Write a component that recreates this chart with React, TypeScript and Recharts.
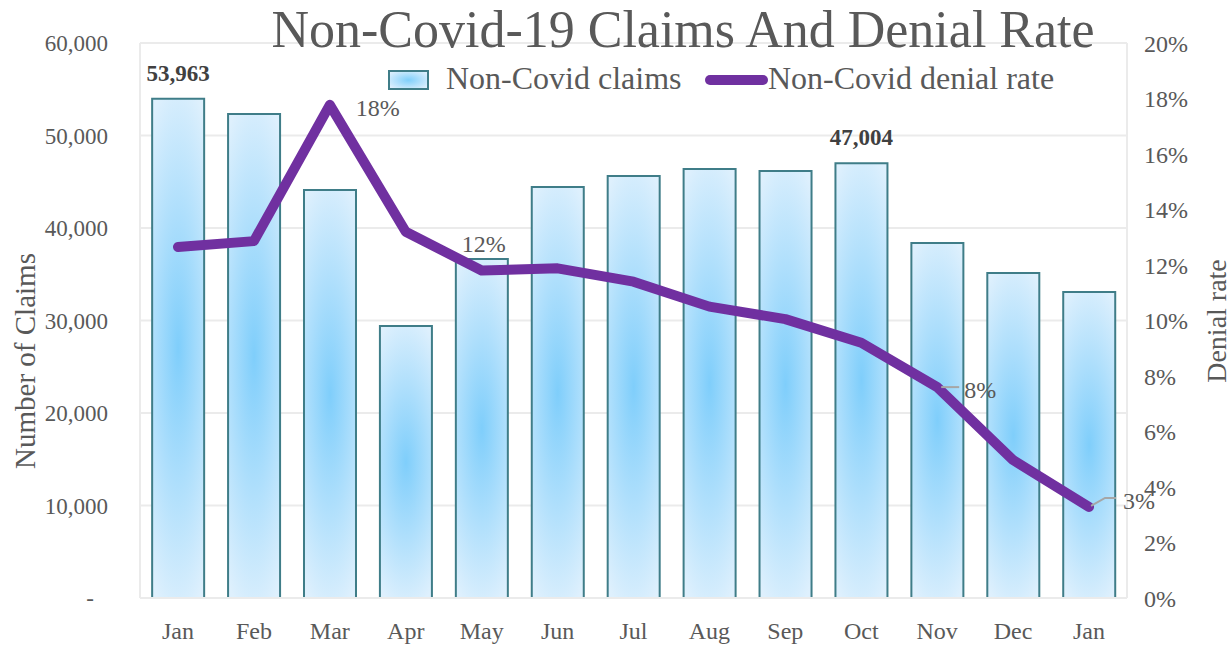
import React from "react";
import {
  ComposedChart,
  Bar,
  Line,
  XAxis,
  YAxis,
  CartesianGrid,
  LabelList,
} from "recharts";

const months = ["Jan", "Feb", "Mar", "Apr", "May", "Jun", "Jul", "Aug", "Sep", "Oct", "Nov", "Dec", "Jan"];
const claims = [53963, 52320, 44110, 29400, 36650, 44430, 45620, 46380, 46160, 47004, 38380, 35130, 33080];
const denialRate = [12.65, 12.86, 17.77, 13.2, 11.8, 11.88, 11.4, 10.5, 10.05, 9.2, 7.6, 4.97, 3.28];
const leftTicks = [0, 10000, 20000, 30000, 40000, 50000, 60000];
const rightTicks = [0, 2, 4, 6, 8, 10, 12, 14, 16, 18, 20];
const claimLabelIdx = [0, 9];
const rateLabelIdx = [2, 4, 10, 12];
const seriesNames = ["Non-Covid claims", "Non-Covid denial rate"];

const data = months.map((m, i) => ({ key: i, month: m, claims: claims[i], rate: denialRate[i] }));

const FONT = "'Liberation Serif', 'Times New Roman', serif";
const GREY = "#595959";

const LeftTick = (props: any) => {
  const { x, y, payload } = props;
  const v = payload.value as number;
  if (v === 0) {
    return (
      <text x={x - 14} y={y} dy="0.355em" textAnchor="end" fill={GREY} fontSize={23} fontFamily={FONT}>
        -
      </text>
    );
  }
  return (
    <text x={x} y={y} dy="0.355em" textAnchor="end" fill={GREY} fontSize={23} fontFamily={FONT}>
      {v.toLocaleString("en-US")}
    </text>
  );
};

const RightTick = (props: any) => {
  const { x, y, payload } = props;
  return (
    <text x={x} y={y} dy="0.355em" textAnchor="start" fill={GREY} fontSize={24} fontFamily={FONT}>
      {payload.value + "%"}
    </text>
  );
};

const BottomTick = (props: any) => {
  const { x, y, payload } = props;
  return (
    <text x={x} y={y} dy="0.71em" textAnchor="middle" fill={GREY} fontSize={24} fontFamily={FONT}>
      {months[payload.value]}
    </text>
  );
};

const ClaimLabel = (props: any) => {
  const { x, y, width, index, value } = props;
  if (!claimLabelIdx.includes(index)) return null;
  return (
    <text
      x={x + width / 2}
      y={y - 26}
      dy="0.355em"
      textAnchor="middle"
      fill="#404040"
      fontWeight="bold"
      fontSize={23}
      fontFamily={FONT}
    >
      {Number(value).toLocaleString("en-US")}
    </text>
  );
};

const RateLabel = (props: any) => {
  const { x, y, index, value } = props;
  if (!rateLabelIdx.includes(index)) return null;
  const txt = Math.round(Number(value)) + "%";
  const common = { fill: GREY, fontSize: 24, fontFamily: FONT };
  if (index === 2) {
    return (
      <text x={x + 26} y={y + 3} dy="0.355em" textAnchor="start" {...common}>
        {txt}
      </text>
    );
  }
  if (index === 4) {
    return (
      <text x={x + 2} y={y - 27} dy="0.355em" textAnchor="middle" {...common}>
        {txt}
      </text>
    );
  }
  if (index === 10) {
    return (
      <g>
        <line x1={x + 4} y1={y} x2={x + 22} y2={y} stroke="#a6a6a6" strokeWidth={2} />
        <text x={x + 27} y={y + 2} dy="0.355em" textAnchor="start" {...common}>
          {txt}
        </text>
      </g>
    );
  }
  return (
    <g>
      <polyline
        points={`${x + 2},${y - 1} ${x + 16},${y - 9} ${x + 27},${y - 9}`}
        fill="none"
        stroke="#a6a6a6"
        strokeWidth={2}
      />
      <text x={x + 34} y={y - 7} dy="0.355em" textAnchor="start" {...common}>
        {txt}
      </text>
    </g>
  );
};

const LegendBox = () => (
  <div
    style={{
      position: "absolute",
      left: 380,
      top: 61,
      width: 720,
      height: 40,
      fontFamily: FONT,
      color: GREY,
      fontSize: 32,
      zIndex: 3,
    }}
  >
    <svg width={720} height={40} style={{ position: "absolute", left: 0, top: 0 }}>
      <defs>
        <radialGradient id="legGrad" cx="0.5" cy="0.5" r="0.6">
          <stop offset="0" stopColor="#7fcffb" />
          <stop offset="1" stopColor="#dcefFd" />
        </radialGradient>
      </defs>
      <rect x={9} y={10} width={39} height={18} fill="url(#legGrad)" stroke="#3f7d88" strokeWidth={2} />
      <line x1={330} y1={19} x2={383} y2={19} stroke="#7030a0" strokeWidth={10} strokeLinecap="round" />
    </svg>
    <span style={{ position: "absolute", left: 66, top: -1, whiteSpace: "nowrap" }}>{seriesNames[0]}</span>
    <span style={{ position: "absolute", left: 388, top: -1, whiteSpace: "nowrap" }}>{seriesNames[1]}</span>
  </div>
);

export default function App() {
  return (
    <div style={{ position: "absolute", left: 0, top: 0, width: 1232, height: 649, background: "#fff" }}>
      <div
        style={{
          position: "absolute",
          left: 0,
          width: 1366,
          top: 0,
          textAlign: "center",
          fontFamily: FONT,
          fontSize: 52,
          color: GREY,
          zIndex: 2,
          whiteSpace: "nowrap",
          lineHeight: "60px",
        }}
      >
        Non-Covid-19 Claims And Denial Rate
      </div>
      <LegendBox />
      <ComposedChart
        width={1232}
        height={649}
        data={data}
        margin={{ top: 43, right: 0, bottom: 0, left: 0 }}
        barCategoryGap="16%"
      >
        <defs>
          <radialGradient
            id="barGrad"
            cx="0.5"
            cy="0.5"
            r="0.55"
            gradientTransform="translate(0.5 0.5) scale(1.7 1) translate(-0.5 -0.5)"
          >
            <stop offset="0" stopColor="#7fcefb" />
            <stop offset="1" stopColor="#def0fd" />
          </radialGradient>
        </defs>
        <CartesianGrid vertical={false} stroke="#ebebeb" strokeWidth={2} yAxisId="left" />
        <XAxis
          dataKey="key"
          height={51}
          tickLine={false}
          axisLine={{ stroke: "#ebebeb", strokeWidth: 2 }}
          tick={<BottomTick />}
          tickMargin={18}
          interval={0}
        />
        <YAxis
          yAxisId="left"
          orientation="left"
          width={140}
          domain={[0, 60000]}
          ticks={leftTicks}
          interval={0}
          tickLine={false}
          axisLine={{ stroke: "#ebebeb", strokeWidth: 2 }}
          tickMargin={26}
          tick={<LeftTick />}
          label={{
            content: () => {
              const cx = 25;
              const cy = 361;
              return (
                <text
                  x={cx}
                  y={cy}
                  transform={`rotate(-90 ${cx} ${cy})`}
                  textAnchor="middle"
                  dy="0.355em"
                  fill={GREY}
                  fontSize={29}
                  fontFamily={FONT}
                >
                  Number of Claims
                </text>
              );
            },
          }}
        />
        <YAxis
          yAxisId="right"
          orientation="right"
          width={105}
          domain={[0, 20]}
          ticks={rightTicks}
          interval={0}
          tickLine={false}
          axisLine={{ stroke: "#ebebeb", strokeWidth: 2 }}
          tickMargin={11}
          tick={<RightTick />}
          label={{
            content: () => {
              const cx = 1216;
              const cy = 321;
              return (
                <text
                  x={cx}
                  y={cy}
                  transform={`rotate(-90 ${cx} ${cy})`}
                  textAnchor="middle"
                  dy="0.34em"
                  fill={GREY}
                  fontSize={28}
                  fontFamily={FONT}
                >
                  Denial rate
                </text>
              );
            },
          }}
        />
        <Bar
          yAxisId="left"
          dataKey="claims"
          name={seriesNames[0]}
          fill="url(#barGrad)"
          stroke="#3f7d88"
          strokeWidth={2}
          isAnimationActive={false}
        >
          <LabelList dataKey="claims" content={<ClaimLabel />} />
        </Bar>
        <Line
          yAxisId="right"
          dataKey="rate"
          name={seriesNames[1]}
          type="linear"
          stroke="#7030a0"
          strokeWidth={10}
          strokeLinejoin="round"
          strokeLinecap="round"
          dot={false}
          activeDot={false}
          isAnimationActive={false}
        >
          <LabelList dataKey="rate" content={<RateLabel />} />
        </Line>
      </ComposedChart>
    </div>
  );
}
